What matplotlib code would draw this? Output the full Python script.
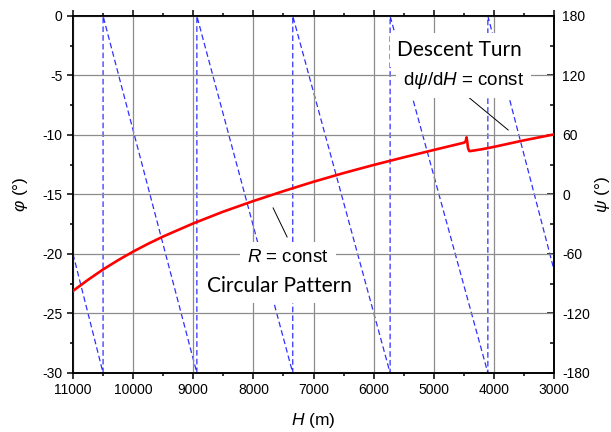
import matplotlib
matplotlib.use('Agg')
import matplotlib.pyplot as plt
from matplotlib.ticker import MultipleLocator

plt.rcParams['font.family'] = ['Liberation Sans', 'DejaVu Sans']
plt.rcParams['mathtext.fontset'] = 'custom'
plt.rcParams['mathtext.rm'] = 'Liberation Sans'
plt.rcParams['mathtext.it'] = 'Liberation Sans:italic'
plt.rcParams['axes.unicode_minus'] = False

# φ(H) - circular pattern, small jump where the turn mode switches
H_phi = [11000, 10750, 10500, 10250, 10000, 9750, 9500, 9000, 8500, 8000, 7500, 7000,
         6500, 6000, 5500, 5000, 4500, 4470, 4455, 4445, 4430, 4410, 4390,
         4200, 4000, 3500, 3000]
phi = [-23.1, -22.17, -21.3, -20.52, -19.8, -19.14, -18.53, -17.43, -16.44, -15.55, -14.72, -13.93,
       -13.2, -12.52, -11.88, -11.26, -10.65, -10.55, -10.2, -10.5, -11.1, -11.35, -11.35,
       -11.2, -11.0, -10.45, -9.95]

# ψ(H) - wraps from -180 to 180
H_psi = [11000, 10500, 10500, 8940, 8940, 7345, 7345, 5726, 5726, 4100, 4100, 3000]
psi = [-60, -180, 180, -180, 180, -180, 180, -180, 180, -180, 180, -76]

fig = plt.figure(figsize=(6.11, 4.32), dpi=100)
ax = fig.add_axes([0.1195, 0.1366, 0.7872, 0.8264])
ax2 = ax.twinx()
ax.set_zorder(ax2.get_zorder() + 1)
ax.patch.set_visible(False)

ax2.plot(H_psi, psi, color='#3030ff', lw=0.9, ls=(0, (4.5, 2.5)))
ax.plot(H_phi, phi, color='#ff0000', lw=1.9, zorder=3)

ax.set_xlim(11000, 3000)
ax.set_ylim(-30, 0)
ax2.set_ylim(-180, 180)

ax.xaxis.set_major_locator(MultipleLocator(1000))
ax.xaxis.set_minor_locator(MultipleLocator(500))
ax.yaxis.set_major_locator(MultipleLocator(5))
ax.yaxis.set_minor_locator(MultipleLocator(2.5))
ax2.yaxis.set_major_locator(MultipleLocator(60))
ax2.yaxis.set_minor_locator(MultipleLocator(30))

ax.grid(True, which='major', color='#8c8c8c', lw=0.9)

for a in (ax, ax2):
    for s in a.spines.values():
        s.set_linewidth(1.2)

ax.tick_params(axis='both', which='major', direction='out', length=4.5, width=1.1,
               labelsize=10, right=False, pad=3)
ax.tick_params(axis='both', which='minor', direction='out', length=2.5, width=1.1,
               right=False)
ax.tick_params(axis='x', which='both', top=True)
ax.tick_params(axis='x', which='major', top=True, length=4.5)
ax2.tick_params(axis='y', which='major', direction='in', length=5, width=1.1,
                labelsize=10, pad=6)
ax2.tick_params(axis='y', which='minor', direction='in', length=3, width=1.1)

ax.set_xlabel(r'$H$ (m)', fontsize=12.5, labelpad=10)
ax.set_ylabel(r'$\varphi$ (°)', fontsize=12.5, labelpad=9)
ax2.set_ylabel(r'$\psi$ (°)', fontsize=12.5, labelpad=2)

# annotation text boxes
box = dict(facecolor='white', edgecolor='none', pad=5)
ax.text(4577, -2.86, 'Descent Turn', family='Lato', fontsize=15,
        ha='center', va='center', bbox=box, zorder=5)
ax.text(4511, -5.4, r'd$\psi$/d$H$ = const', fontsize=13.5,
        ha='center', va='center', bbox=box, zorder=5)
ax.plot([4428, 3762], [-6.8, -9.58], color='black', lw=0.7, zorder=4)

ax.text(7423, -20.3, r'$R$ = const', fontsize=13.5,
        ha='center', va='center', bbox=box, zorder=5)
ax.text(7572, -22.7, 'Circular Pattern', family='Lato', fontsize=15,
        ha='center', va='center', bbox=box, zorder=5)
ax.plot([7672, 7439], [-16.13, -18.57], color='black', lw=0.7, zorder=4)

fig.savefig('out.png', dpi=100)
